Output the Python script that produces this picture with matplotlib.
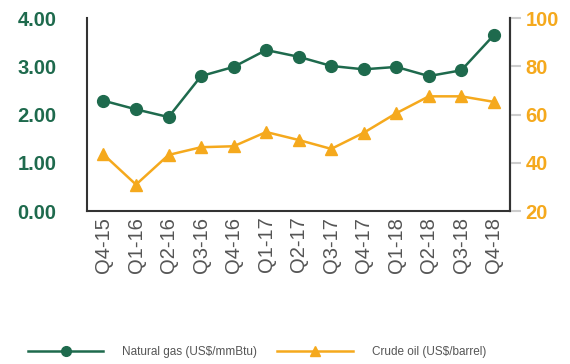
import matplotlib
matplotlib.use("Agg")
from matplotlib import pyplot as plt

# Quartale
quarters = ['Q4-15', 'Q1-16', 'Q2-16', 'Q3-16', 'Q4-16', 'Q1-17', 'Q2-17',
            'Q3-17', 'Q4-17', 'Q1-18', 'Q2-18', 'Q3-18', 'Q4-18']

# Erdgas (US$/mmBtu), linke Achse
gas = [2.29, 2.11, 1.95, 2.80, 2.99, 3.34, 3.20, 3.01, 2.94, 2.99, 2.80, 2.92, 3.65]

# Rohöl (US$/barrel), rechte Achse
oil = [43.5, 31.0, 43.3, 46.5, 46.9, 52.8, 49.5, 45.8, 52.5, 60.6, 67.6, 67.6, 65.3]

green = '#1e6a4d'
orange = '#f5a91d'
sans = ['Liberation Sans', 'DejaVu Sans']

fig = plt.figure(figsize=(5.7, 3.64), dpi=100)
ax = fig.add_axes([0.153, 0.42, 0.742, 0.53])
ax2 = ax.twinx()

x = range(len(quarters))
l1, = ax.plot(x, gas, color=green, lw=1.8, marker='o', ms=8.5, zorder=3)
l2, = ax2.plot(x, oil, color=orange, lw=1.8, marker='^', ms=9)

ax.set_ylim(0, 4)
ax.set_yticks([0, 1, 2, 3, 4])
ax.set_yticklabels(['%.2f' % v for v in [0, 1, 2, 3, 4]])
ax2.set_ylim(20, 100)
ax2.set_yticks([20, 40, 60, 80, 100])
ax.set_xlim(-0.5, 12.5)
ax.set_xticks(list(x))
ax.set_xticklabels(quarters, rotation=90, fontsize=14.5, color='#555555',
                   family=sans)

ax.tick_params(axis='y', length=0, pad=22, labelcolor=green)
ax.tick_params(axis='x', length=0, pad=4)
for t in ax.get_yticklabels():
    t.set_fontsize(14.5)
    t.set_fontweight('bold')
    t.set_family(sans)
ax2.tick_params(axis='y', length=8, width=1.5, color='#cccccc',
                labelcolor=orange, pad=3)
for t in ax2.get_yticklabels():
    t.set_fontsize(14.5)
    t.set_fontweight('bold')
    t.set_family(sans)

for a in (ax, ax2):
    a.spines['top'].set_visible(False)
    for s in ('left', 'right', 'bottom'):
        a.spines[s].set_color('#333333')
        a.spines[s].set_linewidth(1.5)
ax2.spines['left'].set_visible(False)
ax2.spines['bottom'].set_visible(False)

leg = fig.legend([l1, l2], ['Natural gas (US$/mmBtu)', 'Crude oil (US$/barrel)'],
                 loc='center', bbox_to_anchor=(257 / 570, 1 - 352 / 364),
                 ncol=2, frameon=False, handlelength=6.4, columnspacing=1.7,
                 handletextpad=1.6, prop={'size': 8.5, 'family': sans})
for t in leg.get_texts():
    t.set_color('#555555')
for h in leg.legend_handles:
    h.set_markersize(7)

plt.savefig('out.png', dpi=100)
